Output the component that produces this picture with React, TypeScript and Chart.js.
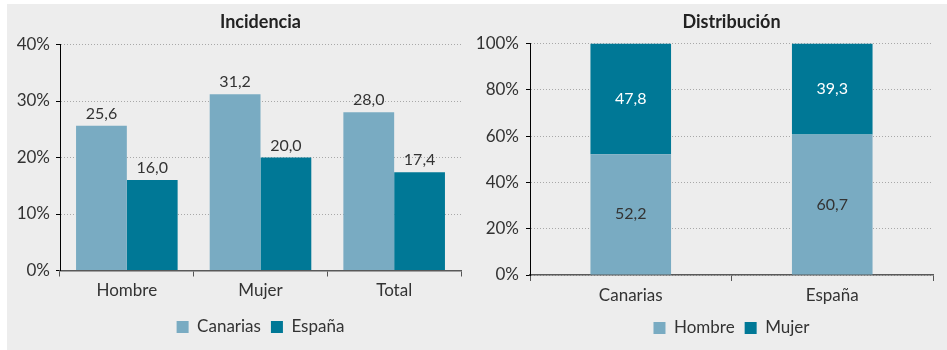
import React, { useEffect, useRef } from "react";
import { Chart, registerables } from "chart.js";

Chart.register(...registerables);

// ---- data ----
const INC_CATEGORIES = ["Hombre", "Mujer", "Total"];
const INC_CANARIAS = [25.6, 31.2, 28.0];
const INC_ESPANA = [16.0, 20.0, 17.4];
const INC_MAX = 40;
const INC_STEP = 10;

const DIST_CATEGORIES = ["Canarias", "España"];
const DIST_HOMBRE = [52.2, 60.7];
const DIST_MUJER = [47.8, 39.3];
const DIST_MAX = 100;
const DIST_STEP = 20;

const LIGHT = "#79abc2";
const DARK = "#007896";
const TEXT = "#333333";
const BG = "#ededed";
const FONT = "Lato";

const valueLabels = {
  id: "valueLabels",
  afterDatasetsDraw(chart: any, _args: any, opts: any) {
    const ctx = chart.ctx;
    chart.data.datasets.forEach((ds: any, i: number) => {
      const meta = chart.getDatasetMeta(i);
      meta.data.forEach((bar: any, j: number) => {
        const v = ds.data[j];
        const txt = Number(v).toFixed(1).replace(".", ",");
        ctx.save();
        ctx.font = `16px ${FONT}`;
        ctx.textAlign = "center";
        ctx.textBaseline = "middle";
        let y;
        if (opts.mode === "inside") {
          y = (bar.y + bar.base) / 2;
          ctx.fillStyle = ds.labelColor || TEXT;
        } else {
          y = bar.y - 12;
          ctx.fillStyle = TEXT;
        }
        ctx.fillText(txt, bar.x, y);
        ctx.restore();
      });
    });
  },
};

function makeOptions(p: any) {
  return {
    responsive: false,
    animation: false,
    layout: { padding: { left: 0, right: p.padRight, top: 0, bottom: p.padBottom } },
    plugins: {
      title: {
        display: true,
        text: p.title,
        fullSize: false,
        color: "#222",
        font: { family: FONT, size: 18, weight: "bold" },
        padding: { top: 7.2, bottom: p.titleBottom },
      },
      legend: {
        position: "bottom",
        fullSize: false,
        labels: {
          color: TEXT,
          font: { family: FONT, size: 17 },
          boxWidth: 12,
          boxHeight: 12,
          padding: 10,
        },
      },
      tooltip: { enabled: false },
      valueLabels: { mode: p.labelMode },
    },
    scales: {
      x: {
        stacked: p.stacked,
        afterFit: (s: any) => {
          s.height = p.xHeight;
        },
        grid: {
          display: true,
          drawOnChartArea: false,
          drawTicks: true,
          tickLength: 6,
          tickColor: "#555",
          offset: true,
        },
        border: { display: true, color: "#595959", width: 1.5 },
        ticks: {
          color: TEXT,
          font: { family: FONT, size: 17 },
          padding: p.xPad,
        },
      },
      y: {
        stacked: p.stacked,
        min: 0,
        max: p.max,
        afterFit: (s: any) => {
          s.width = p.yWidth;
        },
        grid: {
          color: "#a8a8a8",
          lineWidth: 1,
          tickLength: 4,
          tickColor: "#000",
          drawTicks: true,
        },
        border: { display: true, color: "#000", width: 1, dash: [1, 2] },
        ticks: {
          stepSize: p.step,
          color: TEXT,
          padding: p.yPad,
          font: { family: FONT, size: 17 },
          callback: (v: any) => `${v}%`,
        },
      },
    },
  } as any;
}

function IncidenciaChart() {
  const ref = useRef<HTMLCanvasElement>(null);
  useEffect(() => {
    const chart = new Chart(ref.current!, {
      type: "bar",
      data: {
        labels: INC_CATEGORIES,
        datasets: [
          {
            label: "Canarias",
            data: INC_CANARIAS,
            backgroundColor: LIGHT,
            borderWidth: 0,
            categoryPercentage: 0.76,
            barPercentage: 1.0,
          } as any,
          {
            label: "España",
            data: INC_ESPANA,
            backgroundColor: DARK,
            borderWidth: 0,
            categoryPercentage: 0.76,
            barPercentage: 1.0,
          } as any,
        ],
      },
      options: makeOptions({
        title: "Incidencia",
        padRight: 9,
        padBottom: 4.5,
        titleBottom: 11.7,
        labelMode: "above",
        stacked: false,
        xHeight: 38,
        xPad: 4.3,
        yWidth: 53,
        yPad: 6,
        max: INC_MAX,
        step: INC_STEP,
      }),
      plugins: [valueLabels],
    });
    return () => chart.destroy();
  }, []);
  return (
    <canvas
      ref={ref}
      width={463}
      height={346}
      style={{ position: "absolute", left: 0, top: 0, width: 463, height: 346 }}
    />
  );
}

function DistribucionChart() {
  const ref = useRef<HTMLCanvasElement>(null);
  useEffect(() => {
    const chart = new Chart(ref.current!, {
      type: "bar",
      data: {
        labels: DIST_CATEGORIES,
        datasets: [
          {
            label: "Hombre",
            data: DIST_HOMBRE,
            backgroundColor: LIGHT,
            borderWidth: 0,
            categoryPercentage: 1.0,
            barPercentage: 0.4,
            labelColor: TEXT,
          } as any,
          {
            label: "Mujer",
            data: DIST_MUJER,
            backgroundColor: DARK,
            borderWidth: 0,
            categoryPercentage: 1.0,
            barPercentage: 0.4,
            labelColor: "#ffffff",
          } as any,
        ],
      },
      options: makeOptions({
        title: "Distribución",
        padRight: 14,
        padBottom: 3.5,
        titleBottom: 10.7,
        labelMode: "inside",
        stacked: true,
        xHeight: 34.5,
        xPad: 4.8,
        yWidth: 60,
        yPad: 7,
        max: DIST_MAX,
        step: DIST_STEP,
      }),
      plugins: [valueLabels],
    });
    return () => chart.destroy();
  }, []);
  return (
    <canvas
      ref={ref}
      width={477}
      height={346}
      style={{ position: "absolute", left: 463, top: 0, width: 477, height: 346 }}
    />
  );
}

export default function App() {
  return (
    <div
      style={{
        position: "fixed",
        left: 7,
        top: 4,
        width: 940,
        height: 346,
        background: BG,
      }}
    >
      <IncidenciaChart />
      <DistribucionChart />
    </div>
  );
}
